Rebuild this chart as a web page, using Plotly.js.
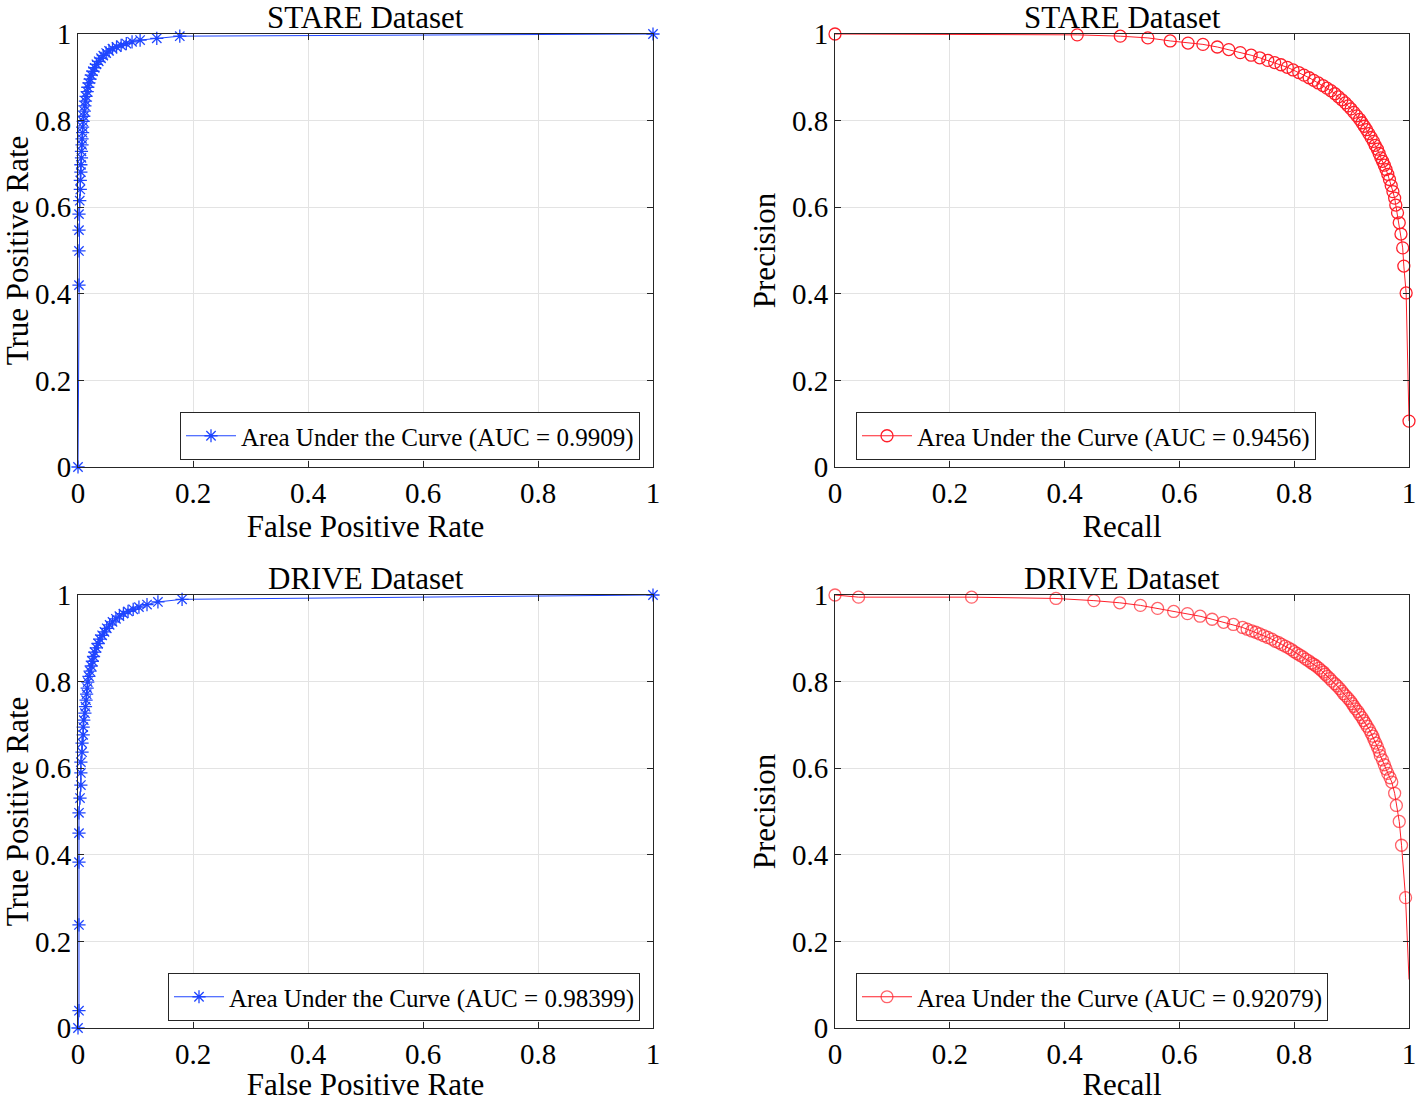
<!DOCTYPE html>
<html>
<head>
<meta charset="utf-8">
<script src="https://cdn.plot.ly/plotly-3.0.1.min.js"></script>
<style>
  html, body { margin: 0; padding: 0; background: #fff; }
  #chart { width: 1416px; height: 1102px; }
</style>
</head>
<body>
<div id="chart"></div>
<script>
// ROC / PR curves for STARE and DRIVE

// STARE ROC
const stareFpr = [0, 0.0017, 0.0017, 0.0017, 0.0017, 0.003, 0.004, 0.004, 0.005, 0.005, 0.006, 0.006, 0.007, 0.007, 0.008, 0.008, 0.009, 0.010, 0.011, 0.012, 0.013, 0.014, 0.016, 0.017, 0.019, 0.021, 0.023, 0.026, 0.029, 0.032, 0.036, 0.040, 0.044, 0.049, 0.054, 0.060, 0.067, 0.075, 0.084, 0.094, 0.108, 0.137, 0.177, 1];
const stareTpr = [0, 0.420, 0.499, 0.547, 0.584, 0.615, 0.641, 0.662, 0.681, 0.698, 0.714, 0.729, 0.744, 0.758, 0.772, 0.785, 0.798, 0.810, 0.822, 0.834, 0.845, 0.856, 0.867, 0.877, 0.887, 0.896, 0.905, 0.914, 0.922, 0.930, 0.937, 0.944, 0.950, 0.956, 0.961, 0.966, 0.970, 0.974, 0.978, 0.982, 0.986, 0.990, 0.995, 1];

// DRIVE ROC
const driveFpr = [0, 0.0017, 0.0017, 0.0017, 0.0017, 0.0017, 0.0035, 0.005, 0.005, 0.005, 0.007, 0.007, 0.009, 0.009, 0.010, 0.012, 0.013, 0.014, 0.015, 0.016, 0.017, 0.019, 0.021, 0.023, 0.025, 0.027, 0.029, 0.032, 0.035, 0.038, 0.042, 0.046, 0.050, 0.055, 0.060, 0.066, 0.072, 0.079, 0.087, 0.096, 0.106, 0.120, 0.139, 0.181, 1];
const driveTpr = [0, 0.040, 0.238, 0.383, 0.450, 0.497, 0.531, 0.561, 0.589, 0.614, 0.637, 0.658, 0.677, 0.695, 0.711, 0.727, 0.742, 0.757, 0.771, 0.785, 0.799, 0.812, 0.824, 0.836, 0.847, 0.858, 0.868, 0.878, 0.888, 0.898, 0.907, 0.915, 0.923, 0.931, 0.938, 0.945, 0.951, 0.957, 0.962, 0.967, 0.972, 0.978, 0.984, 0.990, 1];

// STARE PR
const stareRecall = [0, 0.422, 0.497, 0.545, 0.584, 0.615, 0.641, 0.666, 0.686, 0.706, 0.725, 0.740, 0.754, 0.766, 0.777, 0.788, 0.798, 0.808, 0.817, 0.826, 0.834, 0.842, 0.850, 0.857, 0.864, 0.871, 0.877, 0.883, 0.889, 0.894, 0.899, 0.904, 0.909, 0.914, 0.918, 0.922, 0.926, 0.930, 0.934, 0.938, 0.941, 0.945, 0.948, 0.951, 0.954, 0.957, 0.960, 0.963, 0.966, 0.969, 0.972, 0.975, 0.977, 0.980, 0.983, 0.986, 0.989, 0.991, 0.995, 1.0];
const starePrecision = [1, 0.998, 0.995, 0.991, 0.984, 0.979, 0.976, 0.970, 0.964, 0.957, 0.951, 0.945, 0.939, 0.934, 0.929, 0.923, 0.917, 0.911, 0.905, 0.899, 0.893, 0.887, 0.881, 0.875, 0.869, 0.862, 0.855, 0.848, 0.841, 0.834, 0.827, 0.819, 0.811, 0.803, 0.795, 0.787, 0.779, 0.770, 0.761, 0.752, 0.743, 0.734, 0.724, 0.714, 0.706, 0.697, 0.687, 0.676, 0.664, 0.650, 0.636, 0.621, 0.605, 0.587, 0.564, 0.538, 0.506, 0.464, 0.402, 0.106];

// DRIVE PR (last point is where the line ends, no marker is drawn there)
const driveRecall = [0, 0.041, 0.238, 0.385, 0.451, 0.496, 0.532, 0.562, 0.590, 0.614, 0.636, 0.657, 0.677, 0.694, 0.710, 0.718, 0.726, 0.733, 0.740, 0.747, 0.754, 0.761, 0.767, 0.773, 0.778, 0.784, 0.790, 0.795, 0.800, 0.805, 0.810, 0.815, 0.820, 0.825, 0.830, 0.834, 0.838, 0.843, 0.847, 0.851, 0.854, 0.858, 0.862, 0.866, 0.871, 0.875, 0.879, 0.883, 0.886, 0.890, 0.894, 0.898, 0.901, 0.904, 0.907, 0.911, 0.914, 0.918, 0.921, 0.924, 0.927, 0.931, 0.934, 0.937, 0.939, 0.942, 0.945, 0.948, 0.950, 0.954, 0.957, 0.960, 0.963, 0.967, 0.970, 0.975, 0.978, 0.983, 0.987, 0.994, 1.0];
const drivePrecision = [1, 0.995, 0.995, 0.992, 0.987, 0.982, 0.976, 0.969, 0.962, 0.957, 0.951, 0.944, 0.937, 0.932, 0.925, 0.921, 0.917, 0.914, 0.910, 0.906, 0.902, 0.898, 0.893, 0.890, 0.886, 0.882, 0.878, 0.874, 0.869, 0.865, 0.861, 0.857, 0.852, 0.848, 0.843, 0.840, 0.836, 0.831, 0.826, 0.822, 0.817, 0.812, 0.807, 0.801, 0.795, 0.790, 0.784, 0.778, 0.772, 0.767, 0.761, 0.755, 0.749, 0.743, 0.737, 0.731, 0.724, 0.717, 0.710, 0.704, 0.697, 0.689, 0.681, 0.674, 0.666, 0.658, 0.649, 0.639, 0.629, 0.619, 0.608, 0.598, 0.588, 0.578, 0.568, 0.542, 0.514, 0.477, 0.422, 0.301, 0.112];

const tickVals = [0, 0.2, 0.4, 0.6, 0.8, 1];
const tickText = ['0', '0.2', '0.4', '0.6', '0.8', '1'];

const panelTitles = ['STARE Dataset', 'STARE Dataset', 'DRIVE Dataset', 'DRIVE Dataset'];
const legendNames = [
    'Area Under the Curve (AUC = 0.9909)',
    'Area Under the Curve (AUC = 0.9456)',
    'Area Under the Curve (AUC = 0.98399)',
    'Area Under the Curve (AUC = 0.92079)'
];

const FONT = 'Liberation Serif, Times New Roman, serif';
const BLUE = '#1f45ff';
const RED = '#ff1f2a';
const W = 1416, H = 1102;

// plot boxes in pixels: [left, right, top, bottom]
const boxes = [
    [78, 653, 34, 467],
    [835, 1409, 34, 467],
    [78, 653, 595, 1028],
    [835, 1409, 595, 1028]
];

function axis(box, horiz, titleText) {
    const dom = horiz ? [box[0] / W, box[1] / W] : [1 - box[3] / H, 1 - box[2] / H];
    return {
        domain: dom,
        range: [0, 1],
        tickvals: tickVals,
        ticktext: tickText,
        ticks: 'inside',
        ticklen: 6,
        tickcolor: '#262626',
        showline: true,
        linecolor: '#262626',
        linewidth: 1,
        mirror: 'ticks',
        showgrid: true,
        gridcolor: '#e3e3e3',
        zeroline: false,
        ticklabeloverflow: 'allow',
        tickfont: { family: FONT, size: 29, color: '#000' },
        title: { text: titleText, font: { family: FONT, size: 31, color: '#000' }, standoff: 7 },
        fixedrange: true
    };
}

function curve(x, y, color, symbol, size, name, idx, hideLast) {
    const sx = idx === 0 ? '' : String(idx + 1);
    const sizes = hideLast ? x.map((_, i) => (i === x.length - 1 ? 0 : size)) : size;
    return {
        x: x, y: y,
        xaxis: 'x' + sx, yaxis: 'y' + sx,
        mode: 'lines+markers',
        name: name,
        legend: idx === 0 ? 'legend' : 'legend' + (idx + 1),
        cliponaxis: false,
        line: { color: color, width: 1 },
        marker: { symbol: symbol, size: sizes, color: color, line: { color: color, width: 1.3 } }
    };
}

const data = [
    curve(stareFpr, stareTpr, BLUE, 'asterisk-open', 11, legendNames[0], 0, false),
    curve(stareRecall, starePrecision, RED, 'circle-open', 12, legendNames[1], 1, false),
    curve(driveFpr, driveTpr, BLUE, 'asterisk-open', 11, legendNames[2], 2, false),
    curve(driveRecall, drivePrecision, RED, 'circle-open', 12, legendNames[3], 3, true)
];

const xTitles = ['False Positive Rate', 'Recall', 'False Positive Rate', 'Recall'];
const yTitles = ['True Positive Rate', 'Precision', 'True Positive Rate', 'Precision'];

const layout = {
    width: W, height: H,
    margin: { l: 0, r: 0, t: 0, b: 0 },
    paper_bgcolor: '#fff',
    plot_bgcolor: '#fff',
    font: { family: FONT, color: '#000' },
    showlegend: true,
    annotations: []
};

// legend boxes (right edge, vertical centre in pixels)
const legendPos = [[640, 436], [1316, 436], [640, 997], [1328, 997]];

boxes.forEach((b, i) => {
    const sx = i === 0 ? '' : String(i + 1);
    layout['xaxis' + sx] = Object.assign(axis(b, true, xTitles[i]), { anchor: 'y' + sx });
    layout['yaxis' + sx] = Object.assign(axis(b, false, yTitles[i]), { anchor: 'x' + sx });
    layout[i === 0 ? 'legend' : 'legend' + (i + 1)] = {
        x: legendPos[i][0] / W, y: 1 - legendPos[i][1] / H,
        xanchor: 'right', yanchor: 'middle',
        bgcolor: '#fff', bordercolor: '#262626', borderwidth: 1,
        font: { family: FONT, size: 25, color: '#000' },
        itemwidth: 50
    };
    layout.annotations.push({
        text: panelTitles[i],
        xref: 'paper', yref: 'paper',
        x: (b[0] + b[1]) / 2 / W, y: 1 - (b[2] - 35) / H,
        xanchor: 'center', yanchor: 'top',
        borderpad: 0,
        showarrow: false,
        font: { family: FONT, size: 31, color: '#000' }
    });
});

Plotly.newPlot('chart', data, layout, { displayModeBar: false, staticPlot: true });
</script>
</body>
</html>
